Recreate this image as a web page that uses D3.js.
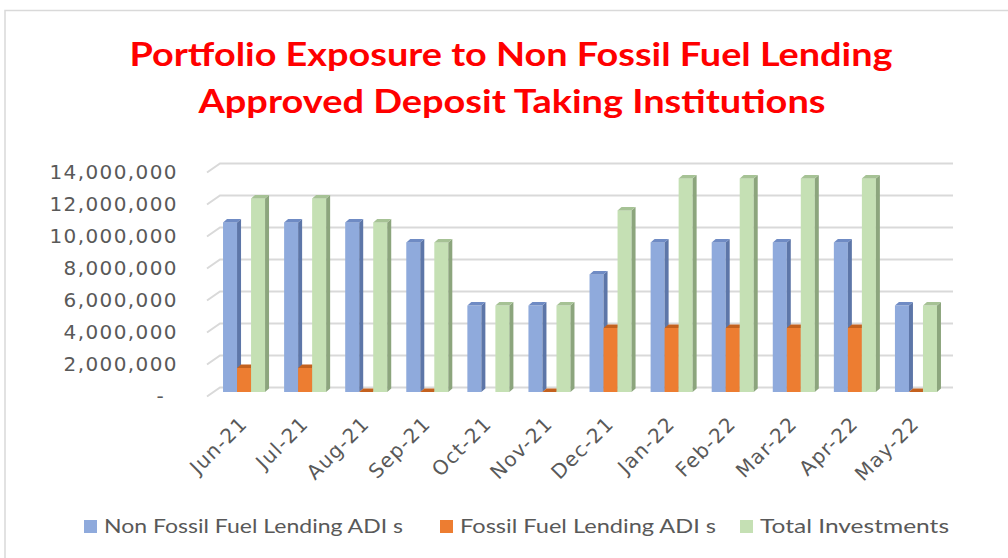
<!DOCTYPE html>
<html>
<head>
<meta charset="utf-8">
<script src="https://cdn.jsdelivr.net/npm/d3@7"></script>
<style>
  body { margin: 0; background: #fff; }
</style>
</head>
<body>
<div id="chart"></div>
<script>
// data
var months = ["Jun-21", "Jul-21", "Aug-21", "Sep-21", "Oct-21", "Nov-21",
              "Dec-21", "Jan-22", "Feb-22", "Mar-22", "Apr-22", "May-22"];
var nonFossil = [10600000, 10600000, 10600000, 9350000, 5400000, 5400000,
                 7350000, 9350000, 9350000, 9350000, 9350000, 5400000];
var fossil = [1500000, 1500000, 0, 0, null, 0,
              4000000, 4000000, 4000000, 4000000, 4000000, 0];
var total = [12100000, 12100000, 10600000, 9350000, 5400000, 5400000,
             11350000, 13350000, 13350000, 13350000, 13350000, 5400000];
var seriesNames = ["Non Fossil Fuel Lending ADI s", "Fossil Fuel Lending ADI s", "Total Investments"];
var yTicks = [0, 2000000, 4000000, 6000000, 8000000, 10000000, 12000000, 14000000];

var width = 1008, height = 558;

// front / side / top colours per series
var colors = [
  {front: "#8faadc", side: "#5d76a8", top: "#6f8bc4"},
  {front: "#ed7d31", side: "#b35a1c", top: "#c4611e"},
  {front: "#c5e0b4", side: "#8ca57d", top: "#a6c295"}
];

var svg = d3.select("#chart")
  .append("svg")
    .attr("width", width)
    .attr("height", height);

// chart frame
svg.append("rect")
  .attr("x", 5).attr("y", 10.5)
  .attr("width", 1010).attr("height", 560)
  .attr("fill", "none")
  .attr("stroke", "#d9d9d9")
  .attr("stroke-width", 1.5);

// title
var title = svg.append("text")
  .attr("text-anchor", "middle")
  .style("font-family", "Lato, 'Liberation Sans', sans-serif")
  .style("font-weight", "bold")
  .style("font-size", "32px")
  .style("fill", "#ff0000");
title.append("tspan").attr("x", 511).attr("y", 66)
  .attr("textLength", 763).attr("lengthAdjust", "spacingAndGlyphs")
  .text("Portfolio Exposure to Non Fossil Fuel Lending");
title.append("tspan").attr("x", 512).attr("y", 113)
  .attr("textLength", 627).attr("lengthAdjust", "spacingAndGlyphs")
  .text("Approved Deposit Taking Institutions");

// scales for the front plane of the 3D box
var depth = {dx: 13, dy: -9};
var x = d3.scaleBand().domain(months).range([207, 940]);
var y = d3.scaleLinear().domain([0, 14000000]).range([396.5, 172.5]);
var xs = d3.scaleBand().domain([0, 1, 2]).range([0, x.bandwidth()]).paddingOuter(0.68);

// gridlines: side wall diagonal + back wall
svg.append("g").selectAll("path")
  .data(yTicks)
  .enter()
  .append("path")
    .attr("d", function(d) {
      var yy = y(d);
      return "M" + x.range()[0] + "," + yy +
             "L" + (x.range()[0] + depth.dx) + "," + (yy + depth.dy) +
             "L" + (x.range()[1] + depth.dx) + "," + (yy + depth.dy);
    })
    .attr("fill", "none")
    .attr("stroke", "#d9d9d9")
    .attr("stroke-width", 2);

// y axis labels
var yAxis = svg.append("g")
  .attr("transform", "translate(178,0)")
  .call(d3.axisLeft(y).tickValues(yTicks).tickSize(0).tickPadding(0)
    .tickFormat(function(d) { return d === 0 ? "-" : d3.format(",")(d); }));
yAxis.select(".domain").remove();
yAxis.selectAll("text")
  .style("font-family", "'DejaVu Sans', sans-serif")
  .style("font-size", "20px")
  .style("letter-spacing", "1.4px")
  .style("fill", "#595959")
  .attr("x", function(d) { return d === 0 ? -13 : 0; });

// x axis labels
var xAxis = svg.append("g")
  .attr("transform", "translate(6,398)")
  .call(d3.axisBottom(x).tickSize(0).tickPadding(0));
xAxis.select(".domain").remove();
xAxis.selectAll("text")
  .attr("y", 0).attr("dy", 0)
  .attr("text-anchor", "end")
  .attr("transform", "translate(5,27) rotate(-45)")
  .style("font-family", "'DejaVu Sans', sans-serif")
  .style("font-size", "20px")
  .style("letter-spacing", "1.2px")
  .style("fill", "#595959");

// 3D bars
var bar = {shiftX: 6.5, shiftY: -4.5, dx: 4, dy: -3.5, w: xs.bandwidth()};
var rows = [];
months.forEach(function(m, i) {
  [nonFossil[i], fossil[i], total[i]].forEach(function(v, s) {
    if (v !== null) rows.push({month: m, s: s, value: v});
  });
});

var bars = svg.append("g").selectAll("g")
  .data(rows)
  .enter()
  .append("g");

function x0(d) { return x(d.month) + xs(d.s) + bar.shiftX; }
function yTop(d) { return y(d.value) + bar.shiftY; }
var yBase = y(0) + bar.shiftY;

bars.append("rect")
  .attr("x", x0)
  .attr("y", yTop)
  .attr("width", bar.w)
  .attr("height", function(d) { return yBase - yTop(d); })
  .attr("fill", function(d) { return colors[d.s].front; });

bars.append("path")
  .attr("d", function(d) {
    var a = x0(d) + bar.w, t = yTop(d);
    return "M" + a + "," + t + "L" + (a + bar.dx) + "," + (t + bar.dy) +
           "L" + (a + bar.dx) + "," + (yBase + bar.dy) + "L" + a + "," + yBase + "Z";
  })
  .attr("fill", function(d) { return colors[d.s].side; });

bars.append("path")
  .attr("d", function(d) {
    var a = x0(d), t = yTop(d);
    return "M" + a + "," + t + "L" + (a + bar.w) + "," + t +
           "L" + (a + bar.w + bar.dx) + "," + (t + bar.dy) +
           "L" + (a + bar.dx) + "," + (t + bar.dy) + "Z";
  })
  .attr("fill", function(d) { return colors[d.s].top; });

// legend
var legendX = [84, 440, 740];
var legendW = [299, 256, 189];
var legend = svg.append("g").selectAll("g")
  .data(seriesNames)
  .enter()
  .append("g")
    .attr("transform", function(d, i) { return "translate(" + legendX[i] + ",520)"; });
legend.append("rect")
  .attr("width", 13).attr("height", 13)
  .attr("fill", function(d, i) { return colors[i].front; });
legend.append("text")
  .attr("x", 20).attr("y", 13)
  .attr("textLength", function(d, i) { return legendW[i]; })
  .attr("lengthAdjust", "spacingAndGlyphs")
  .style("font-family", "Lato, 'Liberation Sans', sans-serif")
  .style("font-size", "20px")
  .style("fill", "#595959")
  .text(function(d) { return d; });
</script>
</body>
</html>
